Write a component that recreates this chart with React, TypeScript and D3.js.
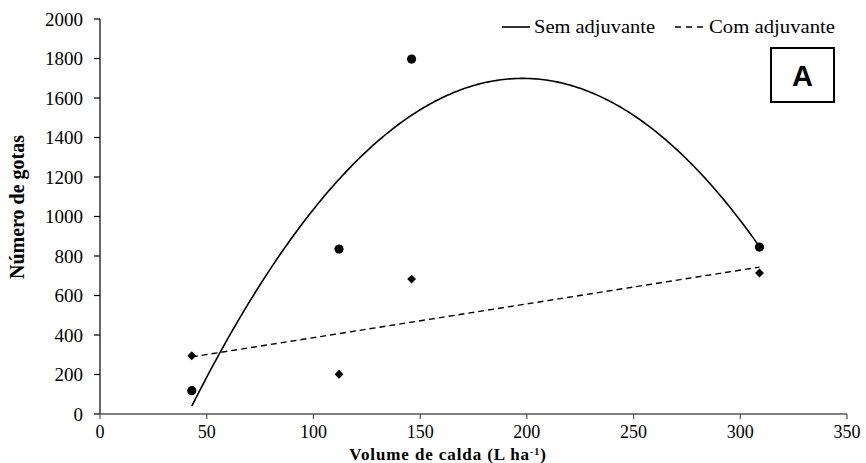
import React from "react";
import * as d3 from "d3";

const volumes = [43, 112, 146, 309];
const semAdjuvante = [118, 835, 1797, 845];
const comAdjuvante = [295, 201, 683, 714];
// trendline coefficients
const semFit = { a: -1009, b: 27.36, c: -0.0691 };
const comFit = { a: 215.5, b: 1.71 };
const fitRange = [43, 309];
const xTicks = [0, 50, 100, 150, 200, 250, 300, 350];
const yTicks = [0, 200, 400, 600, 800, 1000, 1200, 1400, 1600, 1800, 2000];

const W = 866;
const H = 463;
const FONT = "'Liberation Serif', 'Times New Roman', serif";

export default function App() {
  const x = d3.scaleLinear().domain([0, 350]).range([100, 847]);
  const y = d3.scaleLinear().domain([0, 2000]).range([414, 19]);

  const xs = d3.range(fitRange[0], fitRange[1] + 0.5, 1);
  const semCurve = xs.map((v) => [v, semFit.a + semFit.b * v + semFit.c * v * v] as [number, number]);
  const comCurve = [fitRange[0], fitRange[1]].map((v) => [v, comFit.a + comFit.b * v] as [number, number]);
  const line = d3
    .line<[number, number]>()
    .x((d) => x(d[0]))
    .y((d) => y(d[1]))
    .curve(d3.curveLinear);

  const diamond = d3.symbol().type(d3.symbolDiamond2).size(50)();

  return (
    <svg width={W} height={H} style={{ position: "absolute", left: 0, top: 0, background: "#fff" }} fontFamily={FONT}>
      {/* y axis */}
      <line x1={100} x2={100} y1={y(2000)} y2={y(0)} stroke="#000" strokeWidth={1.2} />
      {yTicks.map((t) => (
        <g key={t}>
          <line x1={94} x2={100} y1={y(t)} y2={y(t)} stroke="#000" strokeWidth={1.2} />
          <text x={83} y={y(t)} textAnchor="end" dominantBaseline="central" fontSize={19}>
            {t}
          </text>
        </g>
      ))}
      {/* x axis */}
      <line x1={x(0)} x2={x(350)} y1={y(0)} y2={y(0)} stroke="#555" strokeWidth={1.3} />
      {xTicks.map((t) => (
        <g key={t}>
          <line x1={x(t)} x2={x(t)} y1={y(0)} y2={y(0) + 5} stroke="#555" strokeWidth={1.2} />
          <text x={x(t)} y={438} textAnchor="middle" fontSize={18}>
            {t}
          </text>
        </g>
      ))}
      <text x={448} y={460} textAnchor="middle" fontSize={17} fontWeight="bold" letterSpacing={0.9}>
        Volume de calda (L ha<tspan dy={-5} fontSize={10}>-1</tspan>
        <tspan dy={5}>)</tspan>
      </text>
      <text
        transform={`translate(24,207) rotate(-90)`}
        textAnchor="middle"
        fontSize={20}
        fontWeight="bold"
      >
        Número de gotas
      </text>

      {/* trend lines */}
      <path d={line(semCurve) || ""} fill="none" stroke="#000" strokeWidth={1.6} />
      <path d={line(comCurve) || ""} fill="none" stroke="#000" strokeWidth={1.4} strokeDasharray="6,4" />

      {/* points */}
      {volumes.map((v, i) => (
        <circle key={"s" + i} cx={x(v)} cy={y(semAdjuvante[i])} r={4.6} fill="#000" />
      ))}
      {volumes.map((v, i) => (
        <path key={"c" + i} d={diamond || ""} transform={`translate(${x(v)},${y(comAdjuvante[i])})`} fill="#000" />
      ))}

      {/* legend */}
      <line x1={502} x2={530} y1={27} y2={27} stroke="#000" strokeWidth={1.6} />
      <text x={534} y={33} fontSize={19} textLength={121} lengthAdjust="spacingAndGlyphs">
        Sem adjuvante
      </text>
      <line x1={675} x2={708} y1={27} y2={27} stroke="#000" strokeWidth={1.4} strokeDasharray="6,5" />
      <text x={709} y={33} fontSize={19} textLength={126} lengthAdjust="spacingAndGlyphs">
        Com adjuvante
      </text>

      {/* panel label */}
      <rect x={771} y={48} width={63} height={54} fill="#fff" stroke="#000" strokeWidth={2} />
      <text x={802.5} y={86} textAnchor="middle" fontSize={29} fontWeight="bold" fontFamily="'Liberation Sans', Arial, sans-serif">
        A
      </text>
    </svg>
  );
}
